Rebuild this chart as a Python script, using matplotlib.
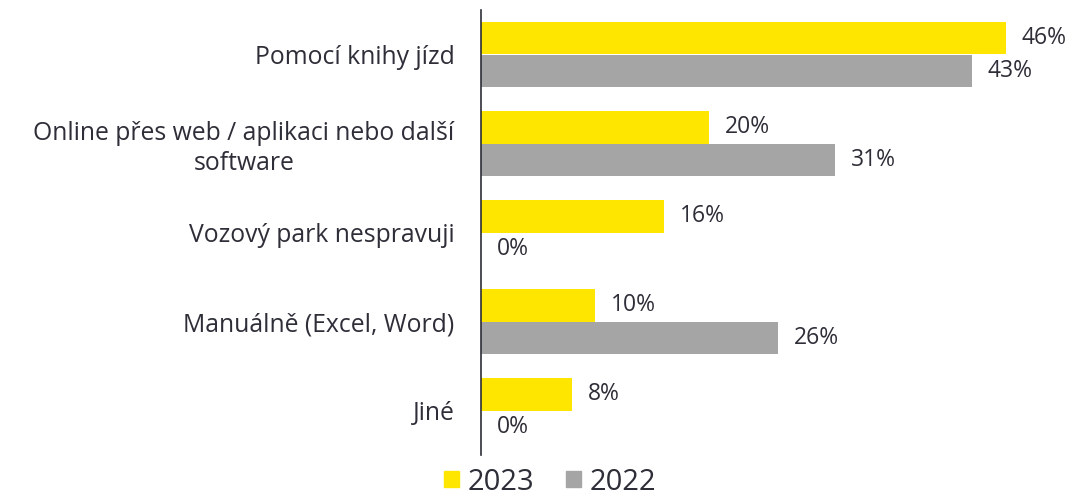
import matplotlib
matplotlib.use("Agg")
import matplotlib.pyplot as plt
import numpy as np
from matplotlib.patches import Patch

categories = ["Pomocí knihy jízd", "Online přes web / aplikaci nebo další\nsoftware",
              "Vozový park nespravuji", "Manuálně (Excel, Word)", "Jiné"]
values_2023 = [46, 20, 16, 10, 8]
values_2022 = [43, 31, 0, 26, 0]
series_names = ["2023", "2022"]

YELLOW = "#FFE600"
GRAY = "#A5A5A5"
TEXT = "#2E2E38"

plt.rcParams['font.family'] = ['Open Sans', 'DejaVu Sans']

fig = plt.figure(figsize=(10.74, 4.97), dpi=100)
ax = fig.add_axes([481/1074, 42/497, 570.6/1074, 445/497])

y = np.arange(len(categories))
h = 0.37
b1 = ax.barh(y - h/2, values_2023, height=h, color=YELLOW)
b2 = ax.barh(y + h/2, values_2022, height=h, color=GRAY)

for bars, vals in ((b1, values_2023), (b2, values_2022)):
    for rect, v in zip(bars, vals):
        ax.text(rect.get_width() + 1.4, rect.get_y() + rect.get_height()/2, f"{v}%",
                va="center", ha="left", fontsize=16.5, color=TEXT)

ax.set_xlim(0, 50)
ax.set_ylim(4.5, -0.5)
ax.set_yticks(y)
ax.set_yticklabels(categories, fontsize=17.8, color=TEXT, multialignment="center",
                   linespacing=1.25)
ax.tick_params(axis="y", length=0, pad=19)
ax.set_xticks([])
for s in ("top", "right", "bottom"):
    ax.spines[s].set_visible(False)
ax.spines["left"].set_color(TEXT)
ax.spines["left"].set_linewidth(1.2)

handles = [Patch(color=YELLOW), Patch(color=GRAY)]
fig.legend(handles, series_names, loc="center", bbox_to_anchor=(550/1074, 1 - 482/497),
           ncol=2, frameon=False, fontsize=21, handlelength=0.5, handleheight=0.5,
           handletextpad=0.3, columnspacing=1.1, labelcolor=TEXT, borderpad=0)

fig.savefig("out.png", dpi=100)
